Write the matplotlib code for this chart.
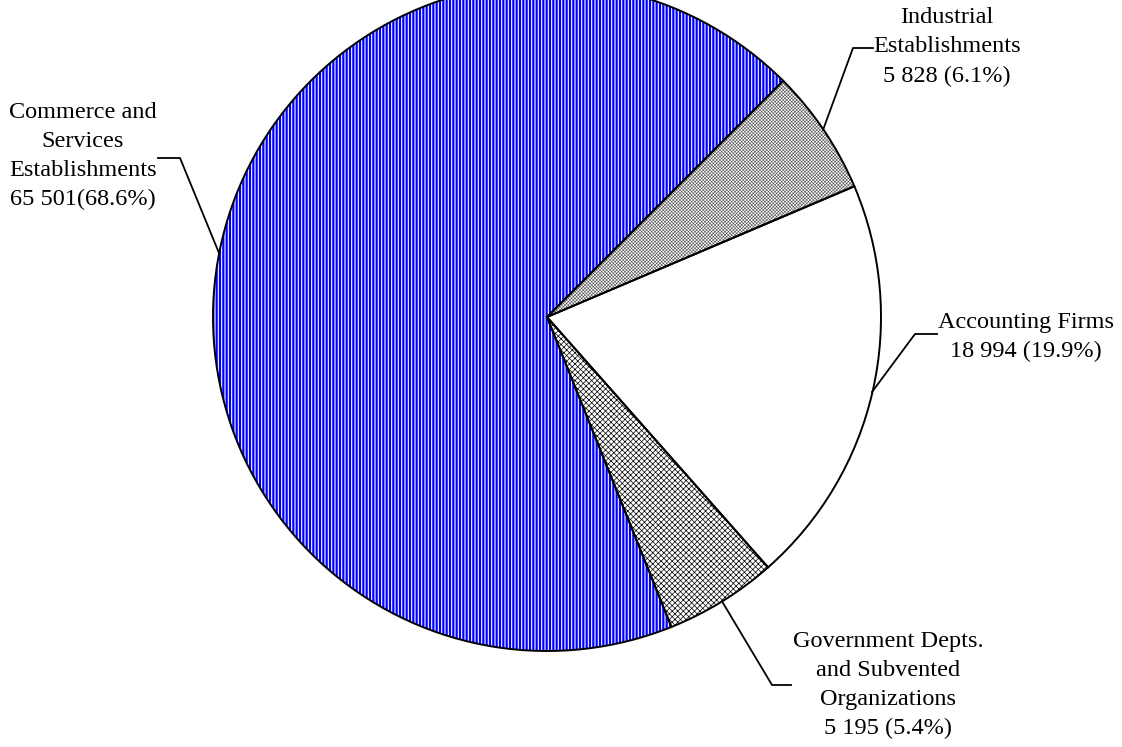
import matplotlib

matplotlib.use('Agg')

import matplotlib.pyplot as plt

# data
labels = ['Commerce and\nServices\nEstablishments\n65 501(68.6%)',
          'Industrial\nEstablishments\n5 828 (6.1%)',
          'Accounting Firms\n18 994 (19.9%)',
          'Government Depts.\nand Subvented\nOrganizations\n5 195 (5.4%)']
values = [65501, 5828, 18994, 5195]

# styles per wedge: face colour, hatch, hatch colour, hatch width
faces = ['#0000ff', 'white', 'white', 'white']
hatches = ['|' * 5, 'x' * 10, '', 'x' * 6]
hatch_colors = ['white', '#505050', 'black', 'black']
hatch_widths = [0.8, 0.4, 0.5, 0.5]

# label text centres and leader lines (pixel coords, y from top)
label_pos = [(83, 156), (947, 47), (1026, 337), (888, 685)]
leaders = [[(219, 253), (180, 158), (158, 158)],
           [(823, 130), (853, 48), (873, 48)],
           [(872, 392), (915, 334), (937, 334)],
           [(723, 603), (772, 685), (791, 685)]]

W, H = 1122, 747
CX, CY, R = 547, 317, 334

plt.rcParams['font.family'] = ['Liberation Serif', 'DejaVu Serif']

fig = plt.figure(figsize=(W / 100, H / 100), dpi=100)
ax = fig.add_axes([0, 0, 1, 1])

start = 45 + values[0] / sum(values) * 360 - 360

wedges, _ = ax.pie(values, startangle=start, counterclock=False,
                   center=(CX, H - CY), radius=R, frame=True,
                   wedgeprops=dict(linewidth=0))
for w, fc, h, hc, hw in zip(wedges, faces, hatches, hatch_colors, hatch_widths):
    w.set_facecolor(fc)
    w.set_edgecolor(hc)
    w.set_hatch(h)
    if hasattr(w, 'set_hatch_linewidth'):
        w.set_hatch_linewidth(hw)

# outlines on top
ax.pie(values, startangle=start, counterclock=False,
       center=(CX, H - CY), radius=R, frame=True,
       wedgeprops=dict(facecolor='none', edgecolor='black', linewidth=1.4))

ax.set_xlim(0, W)
ax.set_ylim(0, H)
ax.set_aspect('equal')
ax.axis('off')

for lab, (x, y), pts in zip(labels, label_pos, leaders):
    ax.text(x, H - y, lab, ha='center', va='center', multialignment='center',
            fontsize=17.5, linespacing=1.5, color='black')
    ax.plot([p[0] for p in pts], [H - p[1] for p in pts], color='black', lw=1.3)

fig.savefig('out.png', dpi=100, facecolor='white')
